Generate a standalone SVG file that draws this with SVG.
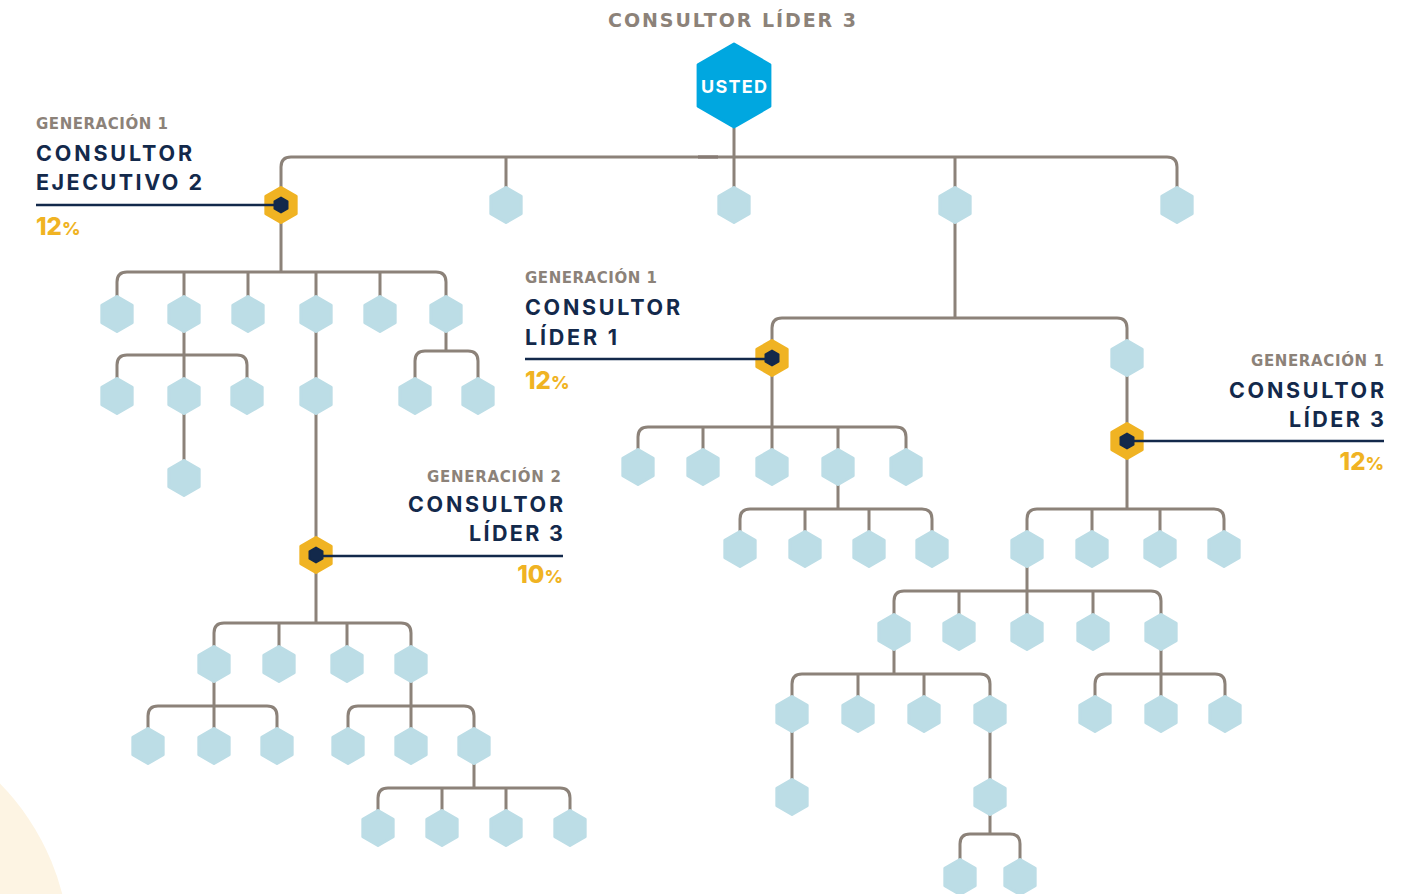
<svg xmlns="http://www.w3.org/2000/svg" xmlns:xlink="http://www.w3.org/1999/xlink" width="1409" height="894" viewBox="0 0 1409 894">
<style>
.bg{fill:#FDF4E3}
.con{fill:none;stroke:#8C8279;stroke-width:3}
.hb{fill:#BCDDE6;stroke:#BCDDE6;stroke-width:3;stroke-linejoin:round}
.hg{fill:#F0B323;stroke:#F0B323;stroke-width:3;stroke-linejoin:round}
.hd{fill:#13294B;stroke:#13294B;stroke-width:2;stroke-linejoin:round}
.hu{fill:#00A7E0;stroke:#00A7E0;stroke-width:3;stroke-linejoin:round}
.ln{stroke:#13294B;stroke-width:2.5}
.t{font-family:Inter,"Liberation Sans",sans-serif;font-weight:700}
.w{font-family:"DejaVu Sans",Inter,sans-serif;font-weight:700}
.gen{font-size:15px;fill:#8C8279}
.nm{font-size:21.5px;fill:#13294B}
.pc{font-size:24px;fill:#F0B323;font-weight:800}
.pcs{font-size:18px}
.ti{font-size:19px;fill:#8C8279}
.us{font-size:18px;fill:#FFFFFF}
</style>
<defs>
<polygon id="hx" points="0,-17.5 15.16,-8.75 15.16,8.75 0,17.5 -15.16,8.75 -15.16,-8.75"/>
<polygon id="hi" points="0,-7.5 6.5,-3.75 6.5,3.75 0,7.5 -6.5,3.75 -6.5,-3.75"/>
</defs>
<circle class="bg" cx="-175" cy="955" r="245"/>
<text class="w ti" x="608" y="27" textLength="248" lengthAdjust="spacing">CONSULTOR LÍDER 3</text>
<g id="connectors">
<path class="con" d="M734 128 V205 M281 205 V167 Q281 157 291 157 H1167 Q1177 157 1177 167 V205 M506 157 V205 M955 157 V205"/>
<path d="M698 157 H718" stroke="#857A73" stroke-width="3.2"/>
<path class="con" d="M281 205 V272 M117 314 V282 Q117 272 127 272 H436 Q446 272 446 282 V314 M184 272 V314 M248 272 V314 M316 272 V314 M380 272 V314"/>
<path class="con" d="M184 314 V478 M117 396 V365 Q117 355 127 355 H237 Q247 355 247 365 V396"/>
<path class="con" d="M316 314 V623"/>
<path class="con" d="M214 664 V633 Q214 623 224 623 H401 Q411 623 411 633 V664 M279 623 V664 M347 623 V664"/>
<path class="con" d="M214 664 V746 M148 746 V716 Q148 706 158 706 H267 Q277 706 277 716 V746"/>
<path class="con" d="M411 664 V746 M348 746 V716 Q348 706 358 706 H464 Q474 706 474 716 V746"/>
<path class="con" d="M474 746 V788 M378 828 V798 Q378 788 388 788 H560 Q570 788 570 798 V828 M442 788 V828 M506 788 V828"/>
<path class="con" d="M446 314 V351 M415 396 V361 Q415 351 425 351 H468 Q478 351 478 361 V396"/>
<path class="con" d="M955 205 V318 M772 358 V328 Q772 318 782 318 H1117 Q1127 318 1127 328 V358"/>
<path class="con" d="M772 358 V467 M638 467 V437 Q638 427 648 427 H896 Q906 427 906 437 V467 M703 427 V467 M838 427 V467"/>
<path class="con" d="M838 467 V509 M740 549 V519 Q740 509 750 509 H922 Q932 509 932 519 V549 M805 509 V549 M869 509 V549"/>
<path class="con" d="M1127 358 V509 M1027 549 V519 Q1027 509 1037 509 H1214 Q1224 509 1224 519 V549 M1092 509 V549 M1160 509 V549"/>
<path class="con" d="M1027 549 V632 M894 632 V601 Q894 591 904 591 H1151 Q1161 591 1161 601 V632 M959 591 V632 M1093 591 V632"/>
<path class="con" d="M894 632 V674 M792 797 V684 Q792 674 802 674 H980 Q990 674 990 684 V834 M858 674 V714 M924 674 V714"/>
<path class="con" d="M960 877 V844 Q960 834 970 834 H1010 Q1020 834 1020 844 V877"/>
<path class="con" d="M1161 632 V714 M1095 714 V684 Q1095 674 1105 674 H1215 Q1225 674 1225 684 V714"/>
</g>
<g id="usted"><polygon class="hu" points="734,44 769.9,64.75 769.9,106.25 734,127 698.1,106.25 698.1,64.75"/><text class="t us" x="734" y="93" text-anchor="middle" textLength="66" lengthAdjust="spacing">USTED</text></g>
<g id="n-r1-2"><use href="#hx" class="hb" x="506" y="205"/></g>
<g id="n-r1-3"><use href="#hx" class="hb" x="734" y="205"/></g>
<g id="n-r1-4"><use href="#hx" class="hb" x="955" y="205"/></g>
<g id="n-r1-5"><use href="#hx" class="hb" x="1177" y="205"/></g>
<g id="n-a1"><use href="#hx" class="hb" x="117" y="314"/></g>
<g id="n-a2"><use href="#hx" class="hb" x="184" y="314"/></g>
<g id="n-a3"><use href="#hx" class="hb" x="248" y="314"/></g>
<g id="n-a4"><use href="#hx" class="hb" x="316" y="314"/></g>
<g id="n-a5"><use href="#hx" class="hb" x="380" y="314"/></g>
<g id="n-a6"><use href="#hx" class="hb" x="446" y="314"/></g>
<g id="n-b1"><use href="#hx" class="hb" x="117" y="396"/></g>
<g id="n-b2"><use href="#hx" class="hb" x="184" y="396"/></g>
<g id="n-b3"><use href="#hx" class="hb" x="247" y="396"/></g>
<g id="n-b4"><use href="#hx" class="hb" x="184" y="478"/></g>
<g id="n-b5"><use href="#hx" class="hb" x="316" y="396"/></g>
<g id="n-b6"><use href="#hx" class="hb" x="415" y="396"/></g>
<g id="n-b7"><use href="#hx" class="hb" x="478" y="396"/></g>
<g id="n-c1"><use href="#hx" class="hb" x="214" y="664"/></g>
<g id="n-c2"><use href="#hx" class="hb" x="279" y="664"/></g>
<g id="n-c3"><use href="#hx" class="hb" x="347" y="664"/></g>
<g id="n-c4"><use href="#hx" class="hb" x="411" y="664"/></g>
<g id="n-d1"><use href="#hx" class="hb" x="148" y="746"/></g>
<g id="n-d2"><use href="#hx" class="hb" x="214" y="746"/></g>
<g id="n-d3"><use href="#hx" class="hb" x="277" y="746"/></g>
<g id="n-d4"><use href="#hx" class="hb" x="348" y="746"/></g>
<g id="n-d5"><use href="#hx" class="hb" x="411" y="746"/></g>
<g id="n-d6"><use href="#hx" class="hb" x="474" y="746"/></g>
<g id="n-e1"><use href="#hx" class="hb" x="378" y="828"/></g>
<g id="n-e2"><use href="#hx" class="hb" x="442" y="828"/></g>
<g id="n-e3"><use href="#hx" class="hb" x="506" y="828"/></g>
<g id="n-e4"><use href="#hx" class="hb" x="570" y="828"/></g>
<g id="n-f1"><use href="#hx" class="hb" x="1127" y="358"/></g>
<g id="n-g1"><use href="#hx" class="hb" x="638" y="467"/></g>
<g id="n-g2"><use href="#hx" class="hb" x="703" y="467"/></g>
<g id="n-g3"><use href="#hx" class="hb" x="772" y="467"/></g>
<g id="n-g4"><use href="#hx" class="hb" x="838" y="467"/></g>
<g id="n-g5"><use href="#hx" class="hb" x="906" y="467"/></g>
<g id="n-h1"><use href="#hx" class="hb" x="740" y="549"/></g>
<g id="n-h2"><use href="#hx" class="hb" x="805" y="549"/></g>
<g id="n-h3"><use href="#hx" class="hb" x="869" y="549"/></g>
<g id="n-h4"><use href="#hx" class="hb" x="932" y="549"/></g>
<g id="n-i1"><use href="#hx" class="hb" x="1027" y="549"/></g>
<g id="n-i2"><use href="#hx" class="hb" x="1092" y="549"/></g>
<g id="n-i3"><use href="#hx" class="hb" x="1160" y="549"/></g>
<g id="n-i4"><use href="#hx" class="hb" x="1224" y="549"/></g>
<g id="n-j1"><use href="#hx" class="hb" x="894" y="632"/></g>
<g id="n-j2"><use href="#hx" class="hb" x="959" y="632"/></g>
<g id="n-j3"><use href="#hx" class="hb" x="1027" y="632"/></g>
<g id="n-j4"><use href="#hx" class="hb" x="1093" y="632"/></g>
<g id="n-j5"><use href="#hx" class="hb" x="1161" y="632"/></g>
<g id="n-k1"><use href="#hx" class="hb" x="792" y="714"/></g>
<g id="n-k2"><use href="#hx" class="hb" x="858" y="714"/></g>
<g id="n-k3"><use href="#hx" class="hb" x="924" y="714"/></g>
<g id="n-k4"><use href="#hx" class="hb" x="990" y="714"/></g>
<g id="n-k5"><use href="#hx" class="hb" x="1095" y="714"/></g>
<g id="n-k6"><use href="#hx" class="hb" x="1161" y="714"/></g>
<g id="n-k7"><use href="#hx" class="hb" x="1225" y="714"/></g>
<g id="n-l1"><use href="#hx" class="hb" x="792" y="797"/></g>
<g id="n-l2"><use href="#hx" class="hb" x="990" y="797"/></g>
<g id="n-m1"><use href="#hx" class="hb" x="960" y="877"/></g>
<g id="n-m2"><use href="#hx" class="hb" x="1020" y="877"/></g>
<g id="gold-ejecutivo">
<use href="#hx" class="hg" x="281" y="205"/>
<line class="ln" x1="36" y1="205" x2="281" y2="205"/>
<use href="#hi" class="hd" x="281" y="205"/>
<text class="w gen" x="36" y="129" textLength="132" lengthAdjust="spacing">GENERACIÓN 1</text>
<text class="t nm" x="36" y="161" textLength="156" lengthAdjust="spacing">CONSULTOR</text>
<text class="t nm" x="36" y="190" textLength="166" lengthAdjust="spacing">EJECUTIVO 2</text>
<text class="t pc" x="36" y="235">12<tspan class="pcs">%</tspan></text>
</g>
<g id="gold-lider1">
<use href="#hx" class="hg" x="772" y="358"/>
<line class="ln" x1="525" y1="359" x2="772" y2="359"/>
<use href="#hi" class="hd" x="772" y="358"/>
<text class="w gen" x="525" y="283" textLength="132" lengthAdjust="spacing">GENERACIÓN 1</text>
<text class="t nm" x="525" y="315" textLength="155" lengthAdjust="spacing">CONSULTOR</text>
<text class="t nm" x="525" y="345" textLength="92" lengthAdjust="spacing">LÍDER 1</text>
<text class="t pc" x="525" y="389">12<tspan class="pcs">%</tspan></text>
</g>
<g id="gold-lider3-gen2">
<use href="#hx" class="hg" x="316" y="555"/>
<line class="ln" x1="316" y1="556" x2="563" y2="556"/>
<use href="#hi" class="hd" x="316" y="555"/>
<text class="w gen" x="561" y="482" text-anchor="end" textLength="134" lengthAdjust="spacing">GENERACIÓN 2</text>
<text class="t nm" x="563" y="512" text-anchor="end" textLength="155" lengthAdjust="spacing">CONSULTOR</text>
<text class="t nm" x="563" y="541" text-anchor="end" textLength="94" lengthAdjust="spacing">LÍDER 3</text>
<text class="t pc" x="563" y="583" text-anchor="end">10<tspan class="pcs">%</tspan></text>
</g>
<g id="gold-lider3-gen1">
<use href="#hx" class="hg" x="1127" y="441"/>
<line class="ln" x1="1127" y1="441" x2="1384" y2="441"/>
<use href="#hi" class="hd" x="1127" y="441"/>
<text class="w gen" x="1384" y="366" text-anchor="end" textLength="133" lengthAdjust="spacing">GENERACIÓN 1</text>
<text class="t nm" x="1384" y="398" text-anchor="end" textLength="155" lengthAdjust="spacing">CONSULTOR</text>
<text class="t nm" x="1384" y="427" text-anchor="end" textLength="95" lengthAdjust="spacing">LÍDER 3</text>
<text class="t pc" x="1384" y="470" text-anchor="end">12<tspan class="pcs">%</tspan></text>
</g>
</svg>
